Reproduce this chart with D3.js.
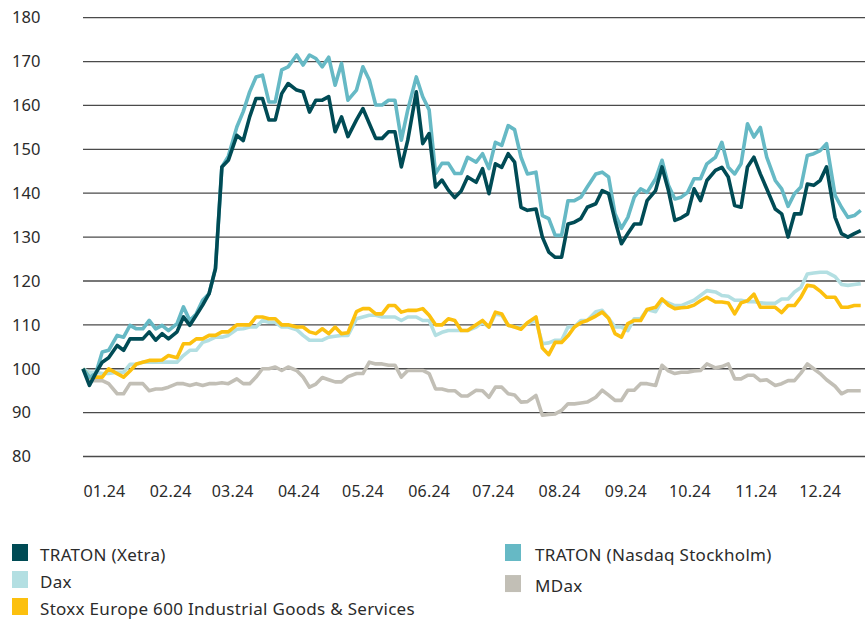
<!DOCTYPE html>
<html>
<head>
<meta charset="utf-8">
<script src="https://cdn.jsdelivr.net/npm/d3@7"></script>
<style>
  body { margin: 0; background: #fff; }
  text { font-family: "Noto Sans", sans-serif; fill: #2b2b2b; }
</style>
</head>
<body>
<svg id="chart" width="865" height="619"></svg>
<script>
// indexed performance, 01.01.2024 = 100, sampled ~every 3 days
const xetra = [100, 96.2, 99, 101.5, 102.5, 105.3, 104.2, 106.8, 106.8, 106.8,
  108.4, 106.5, 108, 106.8, 108.4, 111.8, 109.9, 112.2, 114.5, 117.1,
  122.8, 146, 147.5, 153.2, 152, 157.4, 161.6, 161.6, 156.7, 156.7,
  162.7, 165, 163.5, 163.1, 158.5, 161.2, 161.2, 162, 154, 157.4,
  152.9, 156.7, 159.3, 155.9, 152.5, 152.5, 154, 154, 146, 152.1,
  163.1, 151.3, 153.6, 141.4, 143, 140.7, 139, 140.5, 143.7, 142.5,
  145.6, 139.9, 146.7, 145.9, 149, 147.1, 136.8, 136.1, 136.4, 130,
  126.6, 125.4, 125.4, 133, 133.4, 134.2, 136.8, 137.6, 140.6, 139.9,
  133.8, 128.5, 130.8, 133, 133, 138.3, 140.6, 146, 140.6, 133.8,
  134.4, 135.3, 141, 138.3, 142.9, 145.2, 145.9, 143.7, 137.2, 136.8,
  146, 148.2, 144.4, 141, 136.4, 135.3, 130, 135.3, 135.3, 142.1,
  141.8, 142.9, 146, 134.5, 130.8, 130, 130.8, 131.5];

const nasdaq = [100, 98.1, 98.9, 103.8, 104.2, 107.6, 107.2, 109.9, 109.1, 109.1,
  111, 109.1, 109.9, 108.7, 110.3, 114.1, 111, 112.5, 115.6, 117.1,
  123, 146, 148.4, 155.1, 158.6, 163.1, 166.5, 166.9, 160.8, 160.8,
  168.1, 168.8, 171.5, 169.2, 171.5, 170.7, 168.8, 171, 164.6, 169.6,
  161.2, 163.5, 168.8, 165.8, 160.1, 160.1, 161.2, 161.2, 152.1, 159,
  166.5, 162, 159, 144.5, 146.8, 146.8, 144.5, 144.5, 148.2, 147.1,
  149, 145.6, 151.6, 150.9, 155.4, 154.5, 148.2, 144.4, 144.8, 134.9,
  134.2, 130.4, 130.4, 138.3, 138.3, 139.1, 141.4, 144.4, 144.8, 143.7,
  135.3, 132, 134.5, 139.1, 141, 140.2, 143.3, 147.5, 141.8, 138.7,
  139.1, 140.2, 143.3, 143.3, 146.7, 148.2, 151.6, 145.9, 144.4, 146.7,
  155.8, 152.8, 155, 148.2, 142.9, 141, 137, 139.9, 141.4, 148.6,
  149, 149.7, 151.3, 139.5, 136.8, 134.5, 134.9, 136.1];

const dax = [100, 99.2, 99.2, 98.9, 98.9, 99.2, 99.2, 101, 101, 101.5,
  101.5, 101.5, 101.5, 101.5, 101.5, 103, 104.2, 104.2, 106, 106.5,
  107.2, 107.2, 107.6, 109, 109.1, 109.5, 109.5, 111, 110.6, 110.6,
  109.5, 109.5, 108.9, 107.6, 106.5, 106.5, 106.5, 107.2, 107.4, 107.6,
  107.6, 111.4, 111.8, 112.2, 112.2, 111.8, 111.8, 111.8, 111, 111.8,
  111.8, 111, 111, 107.6, 108.3, 108.7, 108.7, 108.7, 108.7, 109.5,
  110.6, 109.5, 112.5, 112.2, 109.9, 109.5, 109.5, 110.3, 111, 105.7,
  105.9, 106.5, 106.5, 109.5, 109.5, 111, 111, 113, 113.3, 111.5,
  109.5, 109.5, 108.7, 111.4, 111.4, 113.5, 113, 115.6, 115, 114.4,
  114.4, 115, 115.6, 116.7, 117.8, 117.5, 116.7, 116.5, 115.6, 115.6,
  115.3, 115.3, 115, 114.9, 114.9, 115.9, 115.9, 117.5, 118.5, 121.6,
  121.8, 122, 122, 121, 119.2, 119, 119.2, 119.4];

const mdax = [100, 97.3, 97.3, 97.3, 96.6, 94.3, 94.3, 96.6, 96.6, 96.6,
  95, 95.4, 95.4, 95.8, 96.6, 96.6, 96.2, 96.6, 96.2, 96.6,
  96.6, 96.8, 96.6, 97.7, 96.6, 96.6, 98.1, 100, 100, 100.4,
  99.6, 100.4, 99.6, 98.1, 95.8, 96.5, 98, 97.5, 97, 97,
  98.2, 98.9, 98.9, 101.5, 101.1, 101.1, 100.8, 100.8, 98.1, 99.6,
  99.6, 99.6, 98.9, 95.4, 95.4, 95, 95, 93.8, 93.8, 95.1,
  95, 93.5, 95.8, 95.8, 94.3, 94, 92.4, 92.5, 93.9, 89.4,
  89.6, 89.7, 90.5, 92, 92, 92.2, 92.4, 93.5, 95.1, 94,
  92.8, 92.8, 95.1, 95.1, 96.6, 96.6, 96.2, 100.8, 99.5, 98.9,
  99.2, 99.2, 99.5, 99.6, 101.1, 100.2, 100.5, 101.1, 97.7, 97.7,
  98.5, 98.5, 97.3, 97.5, 96.2, 96.6, 97.3, 97.3, 99, 101.1,
  100, 98.9, 97.5, 96, 94.3, 95, 95, 95];

const stoxx = [100, 98.1, 98.1, 98.1, 100, 98.9, 98.1, 99.5, 101.1, 101.5,
  101.9, 101.9, 102, 103, 102.5, 105.7, 105.7, 106.8, 106.8, 107.6,
  107.6, 108.4, 108.4, 110, 110, 110, 111.8, 111.8, 111.4, 111.4,
  110, 110, 109.5, 109.5, 108.4, 108, 109.1, 108, 109.5, 108,
  108.2, 113, 113.7, 113.7, 112.5, 112.5, 114.4, 114.4, 112.9, 113.3,
  113.3, 113.7, 112.2, 110, 110, 111.4, 111, 108.7, 108.7, 110,
  111, 109.5, 112.9, 112.5, 109.9, 109.5, 109, 110.5, 111.8, 104.7,
  103.2, 106, 106, 107.5, 109.5, 110.5, 111, 112, 112.9, 111.5,
  108, 107.2, 110.3, 111, 111, 113.5, 114, 115.9, 114.5, 113.7,
  113.9, 114, 114.5, 115.5, 116.3, 115.2, 115.2, 115, 112.5, 115,
  115.5, 117, 114, 114, 114, 112.8, 114.4, 114.4, 116.3, 119,
  118.8, 117.7, 116.3, 116.3, 114, 114, 114.4, 114.4];

const yTicks = [80, 90, 100, 110, 120, 130, 140, 150, 160, 170, 180];

const series = [
  { name: "Dax", values: dax, color: "#b3dfe2" },
  { name: "MDax", values: mdax, color: "#c2bfb6" },
  { name: "Stoxx Europe 600 Industrial Goods & Services", values: stoxx, color: "#fcc00e" },
  { name: "TRATON (Nasdaq Stockholm)", values: nasdaq, color: "#66b9c5" },
  { name: "TRATON (Xetra)", values: xetra, color: "#004b55" }
];

const legendItems = [
  { name: "TRATON (Xetra)", color: "#004b55", col: 0, row: 0 },
  { name: "Dax", color: "#b3dfe2", col: 0, row: 1 },
  { name: "Stoxx Europe 600 Industrial Goods & Services", color: "#fcc00e", col: 0, row: 2 },
  { name: "TRATON (Nasdaq Stockholm)", color: "#66b9c5", col: 1, row: 0 },
  { name: "MDax", color: "#c2bfb6", col: 1, row: 1.15 }
];

const svg = d3.select("#chart");
const start = new Date(2024, 0, 1);
const end = new Date(2025, 0, 1);
const n = xetra.length;

const x = d3.scaleTime().domain([start, end]).range([83, 865]);
const y = d3.scaleLinear().domain([80, 180]).range([456.5, 17.7]);

// sample dates spread over the year
const dateAt = (i) => new Date(2024, 0, 1 + Math.round(i * 364 / (n - 1)));

// gridlines
svg.append("g")
  .selectAll("line")
  .data(yTicks)
  .join("line")
  .attr("x1", 83)
  .attr("x2", 865)
  .attr("y1", (d) => y(d))
  .attr("y2", (d) => y(d))
  .attr("stroke", "#4a4a4a")
  .attr("stroke-width", 1.3);

// y labels
const yAxis = svg.append("g")
  .attr("transform", "translate(12,0)")
  .call(d3.axisRight(y).tickValues(yTicks).tickSize(0).tickPadding(0));
yAxis.select(".domain").remove();
yAxis.selectAll("text")
  .attr("font-size", 16.5)
  .attr("font-family", "Noto Sans")
  .attr("fill", "#2b2b2b");

// x labels, left aligned at month start
const xAxis = svg.append("g")
  .attr("transform", "translate(0,481)")
  .call(d3.axisBottom(x).ticks(d3.timeMonth.every(1)).tickFormat(d3.timeFormat("%m.%y")).tickSize(0).tickPadding(0));
xAxis.select(".domain").remove();
xAxis.selectAll(".tick")
  .filter((d) => d >= end)
  .remove();
xAxis.selectAll("text")
  .attr("text-anchor", "start")
  .attr("dy", "1em")
  .attr("font-size", 16)
  .attr("letter-spacing", 0.2)
  .attr("font-family", "Noto Sans")
  .attr("fill", "#2b2b2b");

// lines
const line = d3.line()
  .x((d, i) => x(dateAt(i)))
  .y((d) => y(d));

svg.append("g")
  .selectAll("path")
  .data(series)
  .join("path")
  .attr("d", (d) => line(d.values))
  .attr("fill", "none")
  .attr("stroke", (d) => d.color)
  .attr("stroke-width", 3.6)
  .attr("stroke-linejoin", "round");

// legend
const legend = svg.append("g")
  .selectAll("g")
  .data(legendItems)
  .join("g")
  .attr("transform", (d) => `translate(${d.col === 0 ? 12 : 505}, ${544 + d.row * 27})`);

legend.append("rect")
  .attr("width", 16)
  .attr("height", 17)
  .attr("fill", (d) => d.color);

legend.append("text")
  .attr("x", d => d.col === 0 ? 28 : 30)
  .attr("y", 17)
  .attr("font-size", 17)
  .attr("letter-spacing", 0.3)
  .text((d) => d.name);
</script>
</body>
</html>
